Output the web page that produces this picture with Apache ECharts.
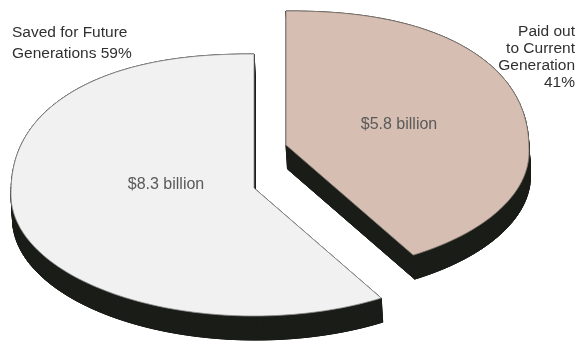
<!DOCTYPE html>
<html>
<head>
<meta charset="utf-8">
<script src="https://cdn.jsdelivr.net/npm/echarts@6/dist/echarts.min.js"></script>
<style>
  html, body { margin: 0; padding: 0; background: #ffffff; }
  #chart { width: 578px; height: 342px; }
</style>
</head>
<body>
<div id="chart"></div>
<script>
// Endowment income split, in billions of dollars
const categories = ['Paid out\nto Current\nGeneration', 'Saved for Future\nGenerations'];
const values = [5.8, 8.3];
const percents = [41, 59];
const valueLabels = ['$5.8 billion', '$8.3 billion'];

// Appearance and layout of the tilted, exploded pie
const sliceColors = ['#d6bfb2', '#f1f1f1'];
const sliceStrokes = ['#857b75', '#8e8e8e'];
const sideColor = '#1a1c18';
const wedgeApex = [[286, 145], [254, 188]];   // pie centre of each exploded wedge
const RX = 243;                               // horizontal radius of the top face
const RY_DIR = 131;                           // vertical squash used for slice directions
const RY_BACK = 141, N_BACK = 2.3;            // far half of the rim (fuller curve)
const RY_FRONT = 121;                         // near half of the rim
const RIM_DROP = 7;                           // rim centre sits a little below the pie centre
const DEPTH = [1.5, 24];                      // extrusion of the pie thickness
const valueLabelPos = [[399, 125], [166, 185]];
const nameLabelPos = [[575, 23, 'right', 17, '\n'], [12, 22, 'left', 21, ' ']];

const total = values.reduce((s, v) => s + v, 0);

// <= 1 inside the rim, > 1 outside
function rimTest(x, y, ax, ay) {
  const u = Math.abs(x - ax) / RX;
  const dy = y - (ay + RIM_DROP);
  if (dy < 0) {
    const v = -dy / RY_BACK;
    return Math.pow(u, N_BACK) + Math.pow(v, N_BACK);
  }
  const v = dy / RY_FRONT;
  return u * u + v * v;
}

// rim point hit by the ray at pie angle t (clockwise from 12 o'clock)
function rimPoint(ax, ay, t) {
  const dx = RX * Math.sin(t), dy = -RY_DIR * Math.cos(t);
  let lo = 0, hi = 2;
  for (let k = 0; k < 40; k++) {
    const m = (lo + hi) / 2;
    if (rimTest(ax + m * dx, ay + m * dy, ax, ay) < 1) lo = m; else hi = m;
  }
  return [ax + lo * dx, ay + lo * dy];
}

function wedgePoints(ax, ay, a0, a1) {
  const pts = [[ax, ay]];
  const steps = Math.max(12, Math.ceil((a1 - a0) / (Math.PI / 120)));
  for (let i = 0; i <= steps; i++) {
    pts.push(rimPoint(ax, ay, a0 + (a1 - a0) * i / steps));
  }
  return pts;
}

function renderWedge(params, api) {
  const i = params.dataIndex;
  let before = 0;
  for (let k = 0; k < i; k++) before += values[k];
  const a0 = 2 * Math.PI * before / total;
  const a1 = 2 * Math.PI * (before + api.value(0)) / total;
  const [ax, ay] = wedgeApex[i];
  const top = wedgePoints(ax, ay, a0, a1);
  const bottom = top.map(p => [p[0] + DEPTH[0], p[1] + DEPTH[1]]);
  const children = [];

  // thickness: bottom face plus a wall under every edge
  children.push({
    type: 'polygon', silent: true,
    shape: { points: bottom },
    style: { fill: sideColor, stroke: sideColor, lineWidth: 1 }
  });
  for (let k = 0; k < top.length; k++) {
    const n = (k + 1) % top.length;
    children.push({
      type: 'polygon', silent: true,
      shape: { points: [top[k], top[n], bottom[n], bottom[k]] },
      style: { fill: sideColor, stroke: sideColor, lineWidth: 1 }
    });
  }

  // top face
  children.push({
    type: 'polygon',
    shape: { points: top },
    style: { fill: sliceColors[i], stroke: sliceStrokes[i], lineWidth: 0.8 }
  });

  // amount inside the wedge
  children.push({
    type: 'text', silent: true,
    style: {
      x: valueLabelPos[i][0], y: valueLabelPos[i][1],
      text: valueLabels[i],
      fill: '#5a5a5a',
      font: '16px "Liberation Sans", Arial, sans-serif',
      align: 'center', verticalAlign: 'middle'
    }
  });

  // category name with its share
  const [lx, ly, align, lh, join] = nameLabelPos[i];
  children.push({
    type: 'text', silent: true,
    style: {
      x: lx, y: ly,
      text: categories[i] + join + percents[i] + '%',
      fill: '#303030',
      font: '15.5px "Liberation Sans", Arial, sans-serif',
      lineHeight: lh,
      align: align, verticalAlign: 'top'
    }
  });

  return { type: 'group', children };
}

const chart = echarts.init(document.getElementById('chart'), null, { renderer: 'canvas' });
chart.setOption({
  backgroundColor: '#ffffff',
  animation: false,
  series: [{
    type: 'custom',
    coordinateSystem: 'none',
    renderItem: renderWedge,
    data: values.map((v, i) => ({ value: [v], name: categories[i] }))
  }]
});
</script>
</body>
</html>
